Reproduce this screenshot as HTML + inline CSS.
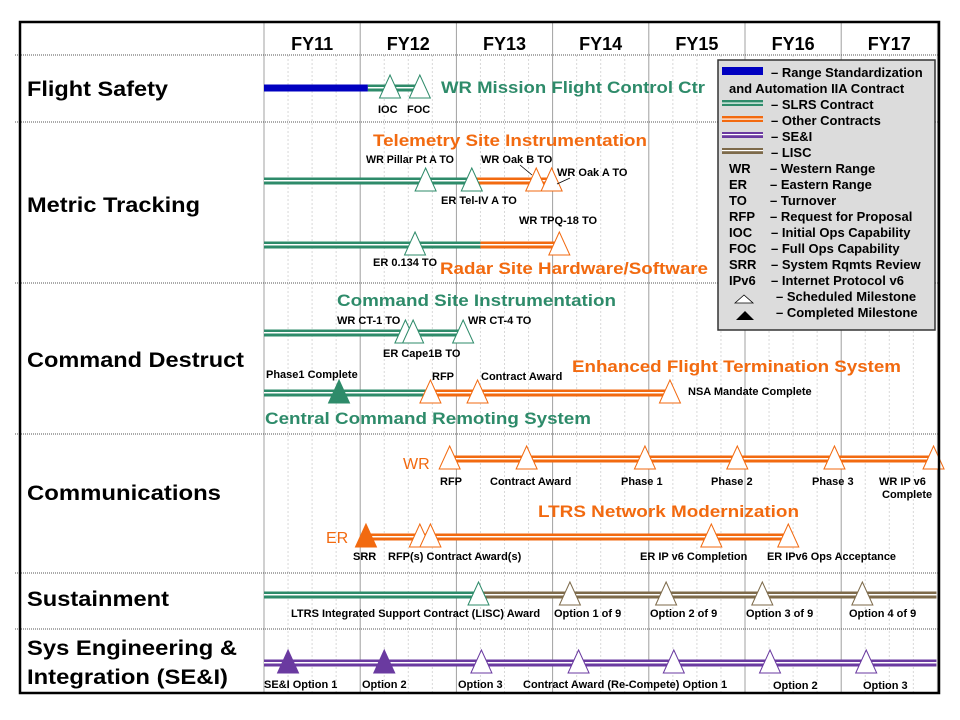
<!DOCTYPE html>
<html><head><meta charset="utf-8"><style>
html,body{margin:0;padding:0;background:#fff;}
svg{display:block;font-family:"Liberation Sans",Arial,sans-serif;font-weight:bold;}
</style></head><body>
<svg id="chart" width="960" height="720" viewBox="0 0 960 720">
<g id="grid"></g>
<g id="rows"></g>
<g id="header"></g>
<g id="tracks"></g>
<g id="labels">
  <g font-size="21" fill="#000">
    <text x="27" y="96" textLength="141" lengthAdjust="spacingAndGlyphs">Flight Safety</text>
    <text x="27" y="212" textLength="173" lengthAdjust="spacingAndGlyphs">Metric Tracking</text>
    <text x="27" y="367" textLength="217" lengthAdjust="spacingAndGlyphs">Command Destruct</text>
    <text x="27" y="500" textLength="194" lengthAdjust="spacingAndGlyphs">Communications</text>
    <text x="27" y="606" textLength="142" lengthAdjust="spacingAndGlyphs">Sustainment</text>
    <text x="27" y="655" textLength="210" lengthAdjust="spacingAndGlyphs">Sys Engineering &amp;</text>
    <text x="27" y="684" textLength="201" lengthAdjust="spacingAndGlyphs">Integration (SE&amp;I)</text>
  </g>
  <g font-size="17">
    <text x="441" y="93" fill="#2e8b6a" textLength="264" lengthAdjust="spacingAndGlyphs">WR Mission Flight Control Ctr</text>
    <text x="373" y="146" fill="#f26a10" textLength="274" lengthAdjust="spacingAndGlyphs">Telemetry Site Instrumentation</text>
    <text x="440" y="274" fill="#f26a10" textLength="268" lengthAdjust="spacingAndGlyphs">Radar Site Hardware/Software</text>
    <text x="337" y="306" fill="#2e8b6a" textLength="279" lengthAdjust="spacingAndGlyphs">Command Site Instrumentation</text>
    <text x="572" y="372" fill="#f26a10" textLength="329" lengthAdjust="spacingAndGlyphs">Enhanced Flight Termination System</text>
    <text x="265" y="424" fill="#2e8b6a" textLength="326" lengthAdjust="spacingAndGlyphs">Central Command Remoting System</text>
    <text x="538" y="517" fill="#f26a10" textLength="261" lengthAdjust="spacingAndGlyphs">LTRS Network Modernization</text>
    <text x="403" y="469" fill="#f26a10" font-weight="normal" font-size="16">WR</text>
    <text x="326" y="543" fill="#f26a10" font-weight="normal" font-size="16">ER</text>
  </g>
  <g font-size="11" fill="#000">
    <text x="378" y="113">IOC</text><text x="407" y="113">FOC</text>
    <text x="366" y="163" textLength="88" lengthAdjust="spacingAndGlyphs">WR Pillar Pt A TO</text>
    <text x="481" y="163">WR Oak B TO</text>
    <text x="557" y="176">WR Oak A TO</text>
    <text x="441" y="204">ER Tel-IV A TO</text>
    <text x="519" y="224">WR TPQ-18 TO</text>
    <text x="373" y="266">ER 0.134 TO</text>
    <text x="337" y="324">WR CT-1 TO</text>
    <text x="468" y="324">WR CT-4 TO</text>
    <text x="383" y="357">ER Cape1B TO</text>
    <text x="266" y="378">Phase1 Complete</text>
    <text x="432" y="380">RFP</text>
    <text x="481" y="380">Contract Award</text>
    <text x="688" y="395">NSA Mandate Complete</text>
    <text x="440" y="485">RFP</text>
    <text x="490" y="485">Contract Award</text>
    <text x="621" y="485">Phase 1</text>
    <text x="711" y="485">Phase 2</text>
    <text x="812" y="485">Phase 3</text>
    <text x="879" y="485">WR IP v6</text>
    <text x="882" y="498">Complete</text>
    <text x="353" y="560">SRR</text>
    <text x="388" y="560">RFP(s) Contract Award(s)</text>
    <text x="640" y="560">ER IP v6 Completion</text>
    <text x="767" y="560" textLength="129" lengthAdjust="spacingAndGlyphs">ER IPv6 Ops Acceptance</text>
    <text x="291" y="617">LTRS Integrated Support Contract (LISC) Award</text>
    <text x="554" y="617">Option 1 of 9</text>
    <text x="650" y="617">Option 2 of 9</text>
    <text x="746" y="617">Option 3 of 9</text>
    <text x="849" y="617">Option 4 of 9</text>
    <text x="264" y="688">SE&amp;I Option 1</text>
    <text x="362" y="688">Option 2</text>
    <text x="458" y="688">Option 3</text>
    <text x="523" y="688">Contract Award (Re-Compete) Option 1</text>
    <text x="773" y="689">Option 2</text>
    <text x="863" y="689">Option 3</text>
  </g>
  <g stroke="#000" stroke-width="0.8">
    <line x1="520" y1="165" x2="532" y2="175"/><line x1="570" y1="178" x2="557" y2="184"/>
  </g>
</g>
<g id="legend">
  <rect x="718" y="60" width="217" height="270" fill="#dcdcdc" stroke="#333" stroke-width="1.5"/>
  <g font-size="13" fill="#000">
    <rect x="722" y="67" width="41" height="8" fill="#0000c0"/>
    <text x="771" y="77">– Range Standardization</text>
    <text x="729" y="93">and Automation IIA Contract</text>
    <g><rect x="722" y="100" width="41" height="6" fill="#2e8b6a"/><rect x="722" y="102.5" width="41" height="1.2" fill="#fff"/></g>
    <text x="771" y="109">– SLRS Contract</text>
    <g><rect x="722" y="116" width="41" height="6" fill="#f26a10"/><rect x="722" y="118.5" width="41" height="1.2" fill="#fff"/></g>
    <text x="771" y="125">– Other Contracts</text>
    <g><rect x="722" y="132" width="41" height="6" fill="#6a3aa0"/><rect x="722" y="134" width="41" height="1.2" fill="#fff"/></g>
    <text x="771" y="141">– SE&amp;I</text>
    <g><rect x="722" y="148" width="41" height="6" fill="#7d6a4a"/><rect x="722" y="150" width="41" height="1.2" fill="#fff"/></g>
    <text x="771" y="157">– LISC</text>
    <text x="729" y="173">WR</text><text x="770" y="173">– Western Range</text>
    <text x="729" y="189">ER</text><text x="770" y="189">– Eastern Range</text>
    <text x="729" y="205">TO</text><text x="770" y="205">– Turnover</text>
    <text x="729" y="221">RFP</text><text x="770" y="221">– Request for Proposal</text>
    <text x="729" y="237">IOC</text><text x="771" y="237">– Initial Ops Capability</text>
    <text x="729" y="253">FOC</text><text x="771" y="253">– Full Ops Capability</text>
    <text x="729" y="269">SRR</text><text x="771" y="269">– System Rqmts Review</text>
    <text x="729" y="285">IPv6</text><text x="771" y="285">–  Internet Protocol v6</text>
    <polygon points="735,303 744,295 753,303" fill="#fff" stroke="#000" stroke-width="0.8"/>
    <text x="776" y="301">– Scheduled Milestone</text>
    <polygon points="736,320 745,311 754,320" fill="#000"/>
    <text x="776" y="317">– Completed Milestone</text>
  </g>
</g>
<rect x="20" y="22" width="919" height="671" fill="none" stroke="#000" stroke-width="2.5"/>
</svg>
<script>
// ---- data ----
const fiscalYears = ["FY11","FY12","FY13","FY14","FY15","FY16","FY17"];
const rowBounds = [55, 122, 283, 434, 573, 629];
const trackNames = ["flight-control","telemetry","radar","command-site","efts","wr-comm","er-comm","lisc","sei"];
const trackY = [88, 181, 245, 333, 393, 459, 537, 595, 663];
const trackSegments = [
  [[2011.0,2012.08,"blue"],[2012.08,2012.62,"green"]],
  [[2011.0,2013.16,"green"],[2013.16,2013.99,"orange"]],
  [[2011.0,2013.25,"green"],[2013.25,2014.07,"orange"]],
  [[2011.0,2013.07,"green"]],
  [[2011.0,2012.73,"green"],[2012.73,2015.22,"orange"]],
  [[2012.93,2017.96,"orange"]],
  [[2012.06,2016.45,"orange"]],
  [[2011.0,2013.23,"green"],[2013.23,2017.99,"brown"]],
  [[2011.0,2017.99,"purple"]]
];
const trackMilestones = [
  [[2012.31,0,"green"],[2012.62,0,"green"]],
  [[2012.68,0,"green"],[2013.16,0,"green"],[2013.83,0,"orange"],[2013.99,0,"orange"]],
  [[2012.57,0,"green"],[2014.07,0,"orange"]],
  [[2012.47,0,"green"],[2012.55,0,"green"],[2013.07,0,"green"]],
  [[2011.78,1,"green"],[2012.73,0,"orange"],[2013.22,0,"orange"],[2015.22,0,"orange"]],
  [[2012.93,0,"orange"],[2013.73,0,"orange"],[2014.96,0,"orange"],[2015.92,0,"orange"],[2016.93,0,"orange"],[2017.96,0,"orange"]],
  [[2012.06,1,"orange"],[2012.62,0,"orange"],[2012.73,0,"orange"],[2015.65,0,"orange"],[2016.45,0,"orange"]],
  [[2013.23,0,"green"],[2014.18,0,"brown"],[2015.18,0,"brown"],[2016.18,0,"brown"],[2017.22,0,"brown"]],
  [[2011.25,1,"purple"],[2012.25,1,"purple"],[2013.26,0,"purple"],[2014.27,0,"purple"],[2015.26,0,"purple"],[2016.26,0,"purple"],[2017.26,0,"purple"]]
];
// ---- scales ----
const X0 = 264, YEARW = 96.2, START = 2011;
function xScale(t){ return X0 + (t - START) * YEARW; }
const colors = {blue:"#0000c0", green:"#2e8b6a", orange:"#f26a10", purple:"#6a3aa0", brown:"#7d6a4a"};
const NS = "http://www.w3.org/2000/svg";
function mk(tag, attrs, parent){ const e=document.createElementNS(NS,tag); for(const k in attrs) e.setAttribute(k,attrs[k]); parent.appendChild(e); return e; }

const grid = document.getElementById('grid');
for (let q = 0; q <= fiscalYears.length * 4; q++) {
  const x = xScale(START + q / 4);
  if (q % 4 === 0) {
    const l = mk('line',{x1:x,y1:22,x2:x,y2:693,stroke:"#a0a0a0","stroke-width":1},grid);
    
    
  } else {
    const l = mk('line',{x1:x,y1:55,x2:x,y2:693,stroke:"#d8d8d8","stroke-width":1,"stroke-dasharray":"2,2"},grid);
    
    
  }
}
const rows = document.getElementById('rows');
rowBounds.forEach(y => {
  const l = mk('line',{x1:15,y1:y,x2:939,y2:y,stroke:"#555","stroke-width":1,"stroke-dasharray":"1,1"},rows);
  
  
});
const header = document.getElementById('header');
fiscalYears.forEach((fy,i) => {
  const t = mk('text',{x:xScale(START+i+0.5),y:50,"text-anchor":"middle","font-size":18,fill:"#000"},header);
  t.textContent = fy;
  
  
});
const tracks = document.getElementById('tracks');
trackY.forEach((y,i) => {
  const g = mk('g',{},tracks);
  
  
  trackSegments[i].forEach(s => {
    const x1 = xScale(s[0]), x2 = xScale(s[1]);
    const r = mk('rect',{x:x1,y:y-3.5,width:x2-x1,height:7,fill:colors[s[2]]},g);
    
    
    if (s[2] !== "blue") {
      const w = mk('rect',{x:x1,y:y-1,width:x2-x1,height:1.5,fill:"#fff"},g);
      
      
    }
  });
  trackMilestones[i].forEach(m => {
    const cx = xScale(m[0]);
    const p = mk('polygon',{points:`${cx-10.5},${y+10} ${cx},${y-13} ${cx+10.5},${y+10}`,
      fill: m[1] ? colors[m[2]] : "#fff", stroke: colors[m[2]], "stroke-width":1},g);
    
    
  });
});
</script>
</body></html>
